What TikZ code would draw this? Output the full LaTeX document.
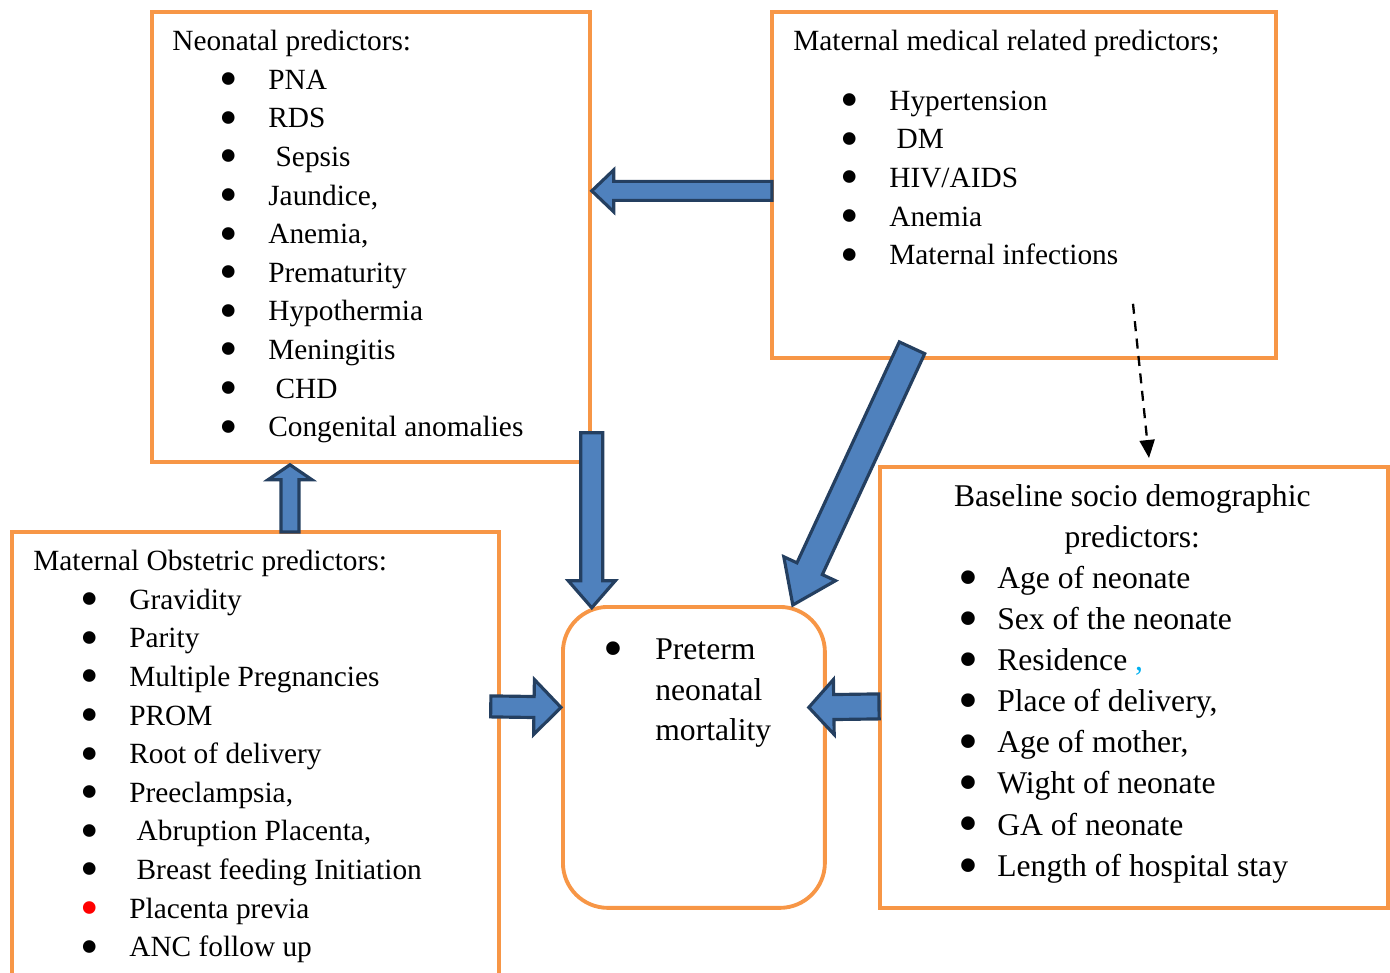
\documentclass[tikz,border=0pt]{standalone}
\usepackage{fontspec}
\setmainfont{Liberation Serif}
\usetikzlibrary{positioning,calc,arrows.meta}

\definecolor{boxorange}{HTML}{F79646}
\definecolor{arrowfill}{HTML}{4F81BD}
\definecolor{arrowline}{HTML}{243F60}
\definecolor{commablue}{HTML}{00B0F0}

% bullet lines
\newcommand{\bul}{\smash{\raisebox{-0.25em}{\scalebox{1.8}{\textbullet}}}}
\newcommand{\bitem}[1]{\makebox[1.92cm][l]{\hspace{1.12cm}\makebox[0pt][c]{\bul}}#1}
\newcommand{\bitemb}[1]{\makebox[0.7cm][l]{\hspace{0.12cm}\makebox[0pt][c]{\bul}}#1}
% fat arrow: from, to, half shaft, half head, head length
\newcommand{\blockarrow}[5]{%
  \path ($(#2)!#5!(#1)$) coordinate (hb);
  \draw[barrow] ($(#1)!#3!90:(#2)$) -- ($(hb)!#3!-90:(#1)$) -- ($(hb)!#4!-90:(#1)$) -- (#2)
    -- ($(hb)!#4!90:(#1)$) -- ($(hb)!#3!90:(#1)$) -- ($(#1)!#3!-90:(#2)$) -- cycle;}

\begin{document}
\begin{tikzpicture}[x=0.02cm,y=-0.02cm,
    box/.style={draw=boxorange,line width=2.2pt,inner sep=0pt,anchor=north west},
    list/.style={align=left,inner sep=0pt,font=\fontsize{16.7}{22}\selectfont},
    barrow/.style={draw=arrowline,fill=arrowfill,line width=1.8pt,line join=miter},
    dasharrow/.style={-{Triangle[length=0.36cm,width=0.3cm]},dash pattern=on 0.2cm off 0.15cm,line width=1.3pt}]
  \clip (0,0) rectangle (1390,973);

  % boxes
  \node[box,minimum width=8.76cm,minimum height=9cm]    (neo)  at (150,10)  {};
  \node[box,minimum width=10.08cm,minimum height=6.92cm] (med)  at (770,10)  {};
  \node[box,minimum width=9.74cm,minimum height=9.4cm]   (obs)  at (10,530)  {};
  \node[box,minimum width=10.16cm,minimum height=8.82cm] (base) at (878,465) {};
  \node[box,rounded corners=0.9cm,minimum width=5.24cm,minimum height=6.02cm] (pre) at (561,605) {};

  % texts
  \node[list,below right=0.26cm and 0.44cm of neo.north west] (neotext) {\strut Neonatal predictors:\\
    \bitem{PNA}\\ \bitem{RDS}\\ \bitem{\ Sepsis}\\ \bitem{Jaundice,}\\ \bitem{Anemia,}\\
    \bitem{Prematurity}\\ \bitem{Hypothermia}\\ \bitem{Meningitis}\\ \bitem{\ CHD}\\
    \bitem{Congenital anomalies}};
  \node[list,below right=0.26cm and 0.46cm of med.north west] (medtext) {\strut Maternal medical related predictors;\\[12pt]
    \bitem{Hypertension}\\ \bitem{\ DM}\\ \bitem{HIV/AIDS}\\ \bitem{Anemia}\\
    \bitem{Maternal infections}};
  \node[list,below right=0.26cm and 0.46cm of obs.north west] (obstext) {\strut Maternal Obstetric predictors:\\
    \bitem{Gravidity}\\ \bitem{Parity}\\ \bitem{Multiple Pregnancies}\\ \bitem{PROM}\\
    \bitem{Root of delivery}\\ \bitem{Preeclampsia,}\\ \bitem{\ Abruption Placenta,}\\
    \bitem{\ Breast feeding Initiation}\\
    \makebox[1.92cm][l]{\hspace{1.12cm}\makebox[0pt][c]{\textcolor{red}{\bul}}}Placenta previa\\
    \bitem{ANC follow up}};
  \node[list,font=\fontsize{18}{23.4}\selectfont,below right=0.24cm and 1.68cm of base.north west] (basetext) {%
    \strut\makebox[6.8cm][c]{Baseline socio demographic}\\
    \makebox[6.8cm][c]{predictors:}\\
    \bitemb{Age of neonate}\\ \bitemb{Sex of the neonate}\\
    \bitemb{Residence {\color{commablue},}}\\ \bitemb{Place of delivery,}\\
    \bitemb{Age of mother,}\\ \bitemb{Wight of neonate}\\ \bitemb{GA of neonate}\\
    \bitemb{Length of hospital stay}};
  \node[list,font=\fontsize{18}{23}\selectfont,below right=0.52cm and 0.9cm of pre.north west] (pretext) {%
    \strut\makebox[0.98cm][l]{\hspace{0.14cm}\makebox[0pt][c]{\bul}}Preterm\\
    \hspace*{0.98cm}neonatal\\ \hspace*{0.98cm}mortality};

  % fat arrows
  \coordinate (a1s) at ($(med.west)+(2,6)$);
  \coordinate (a1e) at ($(neo.east)+(0,-46)$);
  \blockarrow{a1s}{a1e}{0.19cm}{0.42cm}{0.44cm}
  \coordinate (a2s) at ($(obs.north west)+(280,2)$);
  \coordinate (a2e) at ($(neo.south west)+(140,1)$);
  \blockarrow{a2s}{a2e}{0.18cm}{0.44cm}{0.3cm}
  \coordinate (a3s) at ($(neo.south east)+(0,-31)$);
  \coordinate (a3e) at ($(neo.south east)+(0,144)$);
  \blockarrow{a3s}{a3e}{0.22cm}{0.47cm}{0.54cm}
  \coordinate (a4s) at ($(med.south west)+(142,-12)$);
  \coordinate (a4e) at ($(pre.north east)+(-34,0)$);
  \blockarrow{a4s}{a4e}{0.28cm}{0.57cm}{0.8cm}
  \coordinate (a5s) at ($(obs.east |- pre.west)+(-10,-51)$);
  \coordinate (a5e) at ($(pre.west)+(0,-50)$);
  \blockarrow{a5s}{a5e}{0.21cm}{0.55cm}{0.54cm}
  \coordinate (a6s) at ($(base.west |- pre.east)+(1,-51)$);
  \coordinate (a6e) at ($(pre.east)+(-18,-50)$);
  \blockarrow{a6s}{a6e}{0.25cm}{0.55cm}{0.5cm}

  % dashed link
  \coordinate (dstart) at ($(med.south west)+(363,-56)$);
  \coordinate (dend) at ($(base.north west)+(271,-7)$);
  \draw[dasharrow] (dstart) -- (dend);
\end{tikzpicture}
\end{document}
